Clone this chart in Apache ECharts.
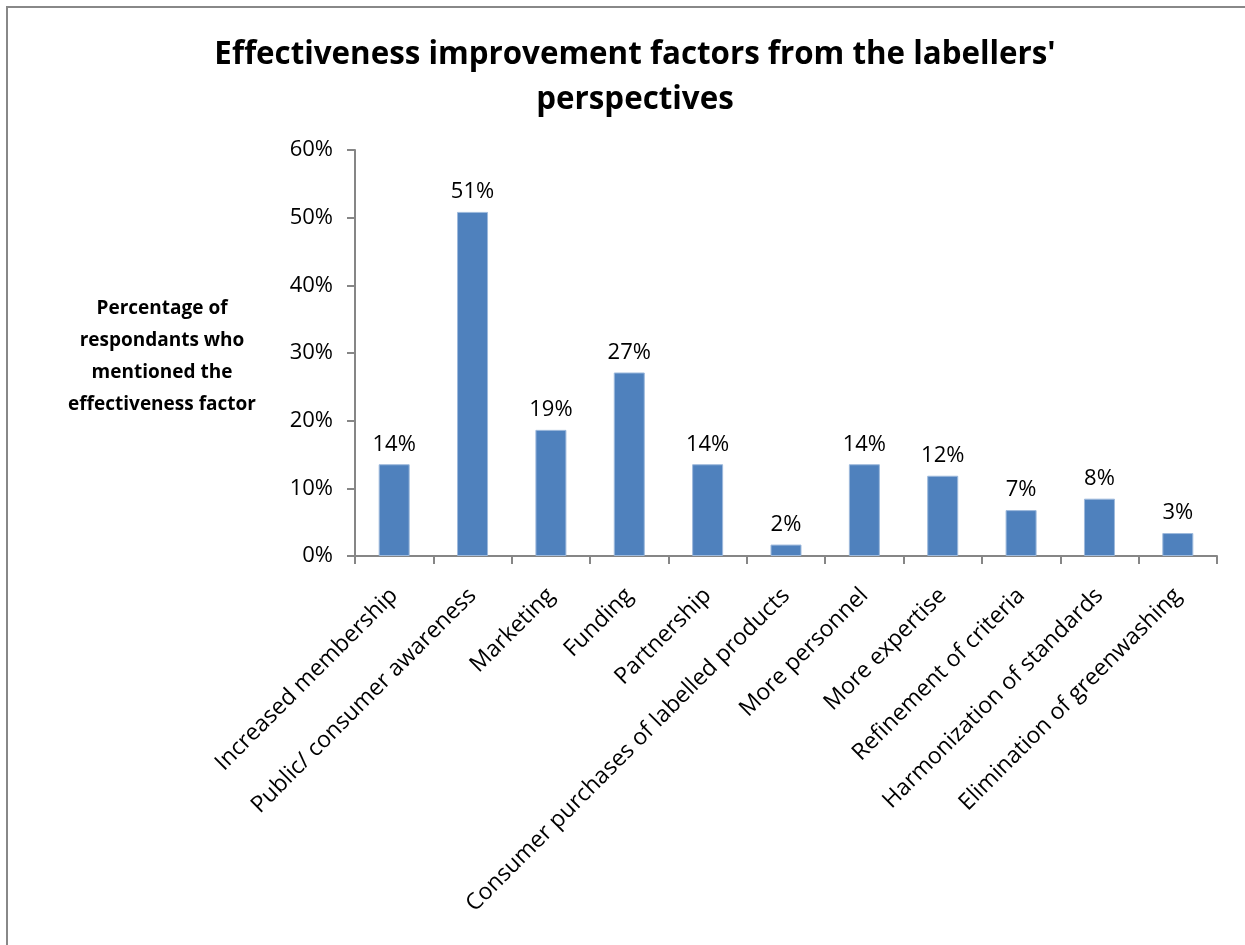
<!DOCTYPE html>
<html>
<head>
<meta charset="utf-8">
<script src="https://cdn.jsdelivr.net/npm/echarts@6/dist/echarts.min.js"></script>
<style>
  html, body { margin: 0; padding: 0; background: #fff; }
  #chart { width: 1245px; height: 945px; }
</style>
</head>
<body>
<div id="chart"></div>
<script>
// Share of respondents (%) naming each effectiveness factor
const categories = [
  'Increased membership',
  'Public/ consumer awareness',
  'Marketing',
  'Funding',
  'Partnership',
  'Consumer purchases of labelled products',
  'More personnel',
  'More expertise',
  'Refinement of criteria',
  'Harmonization of standards',
  'Elimination of greenwashing'
];
const shares = [13.56, 50.85, 18.64, 27.12, 13.56, 1.69, 13.56, 11.86, 6.78, 8.47, 3.39];
const yTicks = [0, 10, 20, 30, 40, 50, 60];

const FONT = '"Open Sans", Lato, sans-serif';
const chart = echarts.init(document.getElementById('chart'), null, { renderer: 'canvas' });

chart.setOption({
  backgroundColor: '#ffffff',
  animation: false,
  title: {
    text: "Effectiveness improvement factors from the labellers'\nperspectives",
    left: 630,
    top: 28,
    textAlign: 'center',
    textStyle: {
      fontFamily: FONT,
      fontSize: 31.3,
      fontWeight: 'bold',
      color: '#000',
      lineHeight: 45
    }
  },
  grid: { left: 355, right: 28, top: 150, bottom: 389, containLabel: false },
  xAxis: {
    type: 'category',
    data: categories,
    axisLine: { lineStyle: { color: '#868686', width: 2 } },
    axisTick: { show: true, length: 8, alignWithLabel: false, lineStyle: { color: '#868686', width: 2 } },
    axisLabel: {
      rotate: 45,
      interval: 0,
      margin: 36,
      fontFamily: FONT,
      fontSize: 23,
      color: '#000'
    }
  },
  yAxis: {
    type: 'value',
    min: yTicks[0],
    max: yTicks[yTicks.length - 1],
    interval: 10,
    splitLine: { show: false },
    axisLine: { show: true, lineStyle: { color: '#868686', width: 2 } },
    axisTick: { show: true, length: 8, lineStyle: { color: '#868686', width: 2 } },
    axisLabel: {
      formatter: '{value}%',
      margin: 22,
      fontFamily: FONT,
      fontSize: 22,
      color: '#000'
    }
  },
  series: [{
    type: 'bar',
    data: shares,
    barWidth: 31,
    itemStyle: { color: '#4F81BD', borderColor: '#9db9dc', borderWidth: 1 },
    label: {
      show: true,
      position: 'top',
      distance: 9,
      fontFamily: FONT,
      fontSize: 22,
      color: '#000',
      formatter: p => Math.round(p.value) + '%'
    }
  }],
  graphic: [
    {
      type: 'rect',
      shape: { x: 7, y: 7, width: 1400, height: 1100 },
      style: { fill: 'none', stroke: '#888888', lineWidth: 2 },
      silent: true
    },
    {
      type: 'text',
      style: {
        x: 162,
        y: 357,
        text: 'Percentage of\nrespondants who\nmentioned the\neffectiveness factor',
        textAlign: 'center',
        textVerticalAlign: 'middle',
        fontFamily: FONT,
        fontSize: 19,
        fontWeight: 'bold',
        lineHeight: 32,
        fill: '#000'
      }
    }
  ]
});
</script>
</body>
</html>
